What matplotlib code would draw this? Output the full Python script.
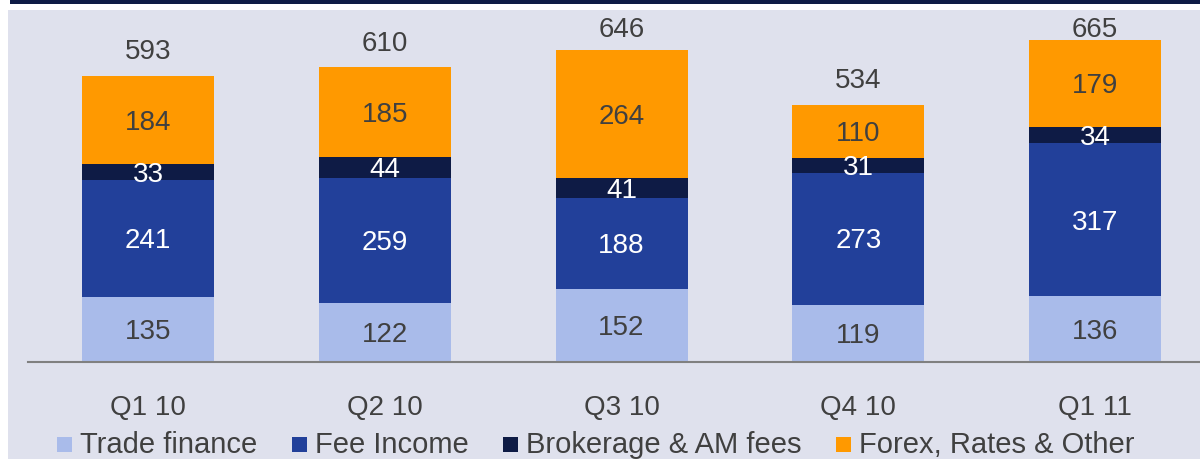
import matplotlib
matplotlib.use('Agg')
import numpy as np
import matplotlib.pyplot as plt
from matplotlib.patches import Rectangle

quarters = ['Q1 10', 'Q2 10', 'Q3 10', 'Q4 10', 'Q1 11']
series = ['Trade finance', 'Fee Income', 'Brokerage & AM fees', 'Forex, Rates & Other']
trade_finance = [135, 122, 152, 119, 136]
fee_income = [241, 259, 188, 273, 317]
brokerage = [33, 44, 41, 31, 34]
forex = [184, 185, 264, 110, 179]
totals = [593, 610, 646, 534, 665]

colors = ['#A9BBEA', '#22409A', '#0E1B45', '#FF9900']
label_colors = ['#404040', 'white', 'white', '#404040']
bg = '#DFE1ED'
txt = '#404040'

plt.rcParams['font.family'] = ['Liberation Sans', 'DejaVu Sans']

W, H = 1200, 459
fig = plt.figure(figsize=(12, 4.59), dpi=100)
fig.patch.set_facecolor('white')
# background panel and top navy stripe
fig.patches.append(Rectangle((8 / W, 0), 1 - 8 / W, (H - 10) / H, transform=fig.transFigure,
                             facecolor=bg, edgecolor='none', zorder=-2))
fig.patches.append(Rectangle((10 / W, (H - 4) / H), 1, 4 / H, transform=fig.transFigure,
                             facecolor='#0E1B45', edgecolor='none', zorder=-2))

ax = fig.add_axes([28 / W, (H - 362) / H, (W - 28) / W, (362 - 10) / H])
ax.set_facecolor('none')
ax.set_zorder(1)

x = np.arange(len(quarters))
step = 236.75
ax.set_xlim((28 - 148) / step, (1200 - 148) / step)
ax.set_ylim(0, 352 / 0.483)
width = 132 / step
dy = 6  # nudge labels down so digits look centred

data = [trade_finance, fee_income, brokerage, forex]
bottom = np.zeros(len(quarters))
for vals, c, lc in zip(data, colors, label_colors):
    vals = np.array(vals)
    ax.bar(x, vals, width, bottom=bottom, color=c, edgecolor='none')
    for xi, b, v in zip(x, bottom, vals):
        ax.text(xi, b + v / 2 - dy, str(v), ha='center', va='center', fontsize=20, color=lc)
    bottom += vals

for xi, t in zip(x, totals):
    ax.text(xi, min(t + 54, 693) - dy, str(t), ha='center', va='center', fontsize=20, color=txt)

for s in ['top', 'right', 'left']:
    ax.spines[s].set_visible(False)
ax.spines['bottom'].set_color('#808080')
ax.spines['bottom'].set_linewidth(1.5)
ax.set_yticks([])
ax.set_xticks(x)
ax.set_xticklabels(quarters, fontsize=20, color=txt)
ax.tick_params(axis='x', length=0, pad=24)

# legend
leg_x = [57, 292, 503, 836]
for lx, name, c in zip(leg_x, series, colors):
    fig.patches.append(Rectangle((lx / W, (H - 452) / H), 15 / W, 15 / H, transform=fig.transFigure,
                                 facecolor=c, edgecolor='none', zorder=2))
    fig.text((lx + 23) / W, (H - 445) / H, name, fontsize=21, color=txt, ha='left', va='center')

fig.savefig('out.png', dpi=100, facecolor='white')
